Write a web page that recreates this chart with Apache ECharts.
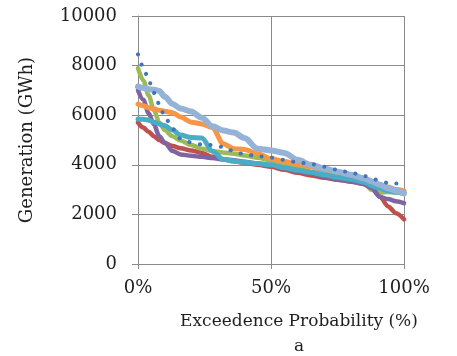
<!DOCTYPE html>
<html>
<head>
<meta charset="utf-8">
<script src="https://cdn.jsdelivr.net/npm/echarts@6/dist/echarts.min.js"></script>
<style>
  html, body { margin: 0; padding: 0; background: #ffffff; }
  #chart { width: 457px; height: 356px; }
</style>
</head>
<body>
<div id="chart"></div>
<script>
// Exceedence probability (%) shared by every duration curve
const probability = [0, 2, 4, 6, 8, 10, 13, 16, 20, 24, 28, 32, 36, 40, 45, 50, 55, 60, 65, 70, 75, 80, 85, 88, 91, 94, 97, 100];

// Generation (GWh) for each curve
const series1 = [8450, 7950, 7400, 6900, 6450, 5950, 5450, 5050, 4900, 4820, 4800, 4720, 4550, 4420, 4350, 4290, 4200, 4100, 4030, 3920, 3800, 3680, 3550, 3450, 3350, 3270, 3250, 3250];
const series2 = [5700, 5500, 5330, 5150, 5000, 4880, 4760, 4670, 4580, 4480, 4320, 4220, 4140, 4080, 4000, 3920, 3800, 3680, 3570, 3480, 3400, 3330, 3230, 3020, 2720, 2320, 2050, 1800];
const series3 = [7900, 7400, 6800, 6200, 5700, 5400, 5150, 4980, 4800, 4650, 4550, 4500, 4450, 4380, 4280, 4180, 4020, 3870, 3720, 3570, 3480, 3400, 3280, 2980, 2880, 2900, 2880, 2820];
const series4 = [7000, 6620, 6080, 5620, 5150, 4900, 4560, 4420, 4360, 4320, 4270, 4220, 4180, 4120, 4050, 3990, 3860, 3740, 3640, 3520, 3400, 3320, 3220, 3050, 2700, 2620, 2530, 2450];
const series5 = [5850, 5840, 5800, 5720, 5650, 5580, 5400, 5200, 5100, 5080, 4550, 4220, 4150, 4100, 4050, 4000, 3880, 3780, 3700, 3600, 3500, 3420, 3300, 3150, 3050, 2950, 2900, 2850];
const series6 = [6450, 6380, 6300, 6260, 6200, 6160, 6100, 5930, 5720, 5650, 5500, 4850, 4650, 4620, 4450, 4250, 4130, 4020, 3920, 3780, 3620, 3520, 3330, 3250, 3150, 3100, 3000, 2950];
const series7 = [7150, 7100, 7050, 7030, 6980, 6750, 6450, 6270, 6150, 5900, 5550, 5380, 5300, 5080, 4650, 4580, 4480, 4200, 4000, 3850, 3720, 3600, 3450, 3330, 3200, 3050, 2950, 2850];

// Axis ticks
const yTicks = { min: 0, max: 10000, step: 2000 };
const xTicks = { min: 0, max: 100, step: 50 };

const serifFont = 'DejaVu Serif';
const inkColor = '#1e1e1e';
const gridColor = '#8a8a8a';

const pairs = (values) => probability.map((p, i) => [p, values[i]]);

function curve(name, values, color, width, extra) {
  return Object.assign({
    name: name,
    type: 'line',
    data: pairs(values),
    smooth: 0.3,
    smoothMonotone: 'x',
    showSymbol: false,
    symbol: 'none',
    lineStyle: { color: color, width: width, cap: 'round', join: 'round' },
    itemStyle: { color: color },
    emphasis: { disabled: true },
    silent: true
  }, extra || {});
}

const chart = echarts.init(document.getElementById('chart'));

chart.setOption({
  animation: false,
  backgroundColor: '#ffffff',
  textStyle: { fontFamily: serifFont },
  grid: { left: 138, right: 53, top: 16, bottom: 92, containLabel: false },
  xAxis: {
    type: 'value',
    min: xTicks.min,
    max: xTicks.max,
    interval: xTicks.step,
    name: 'Exceedence Probability (%)',
    nameLocation: 'middle',
    nameGap: 49,
    nameTextStyle: { fontFamily: serifFont, fontSize: 17, color: inkColor, padding: [0, 0, 0, 56] },
    axisLine: { show: true, lineStyle: { color: gridColor, width: 1 } },
    axisTick: { show: true, length: 5, lineStyle: { color: gridColor } },
    axisLabel: { formatter: '{value}%', fontFamily: serifFont, fontSize: 18, color: inkColor, margin: 15 },
    splitLine: { show: true, lineStyle: { color: gridColor, width: 1 } }
  },
  yAxis: {
    type: 'value',
    min: yTicks.min,
    max: yTicks.max,
    interval: yTicks.step,
    name: 'Generation (GWh)',
    nameLocation: 'middle',
    nameGap: 102,
    nameTextStyle: { fontFamily: serifFont, fontSize: 18, color: inkColor },
    axisLine: { show: true, lineStyle: { color: gridColor, width: 1 } },
    axisTick: { show: true, length: 6, lineStyle: { color: gridColor } },
    axisLabel: { formatter: (v) => String(v), fontFamily: serifFont, fontSize: 18, color: inkColor, margin: 21 },
    splitLine: { show: true, lineStyle: { color: gridColor, width: 1 } }
  },
  graphic: [{
    type: 'text',
    x: 299,
    y: 347,
    style: { text: 'a', fontFamily: serifFont, fontSize: 17, fill: inkColor, align: 'center', verticalAlign: 'middle' }
  }],
  series: [
    curve('Series 2', series2, '#c0504d', 4.5),
    curve('Series 3', series3, '#9bbb59', 4.5),
    curve('Series 4', series4, '#8064a2', 4.5),
    curve('Series 6', series6, '#f79646', 5),
    curve('Series 5', series5, '#4bacc6', 5),
    curve('Series 7', series7, '#95b3d7', 6),
    curve('Series 1', series1, '#3f75bb', 4, {
      lineStyle: { color: '#3f75bb', width: 4, type: [0.1, 10.5], cap: 'round' }
    })
  ]
});
</script>
</body>
</html>
